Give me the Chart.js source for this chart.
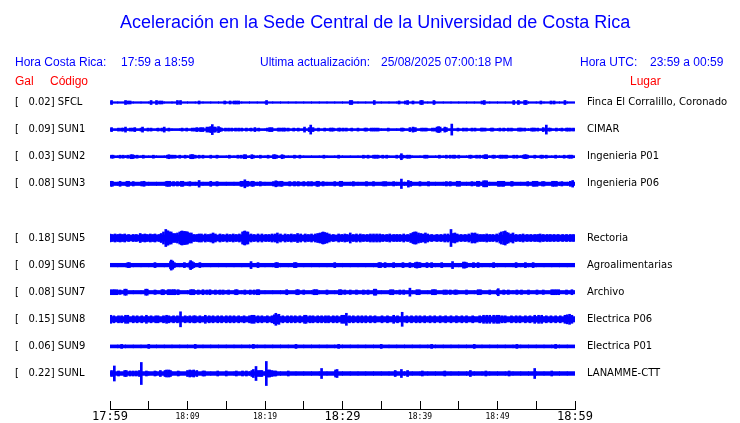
<!DOCTYPE html>
<html><head><meta charset="utf-8">
<script src="https://cdn.jsdelivr.net/npm/chart.js@4/dist/chart.umd.min.js"></script>
<style>
html,body{margin:0;padding:0;background:#fff;}
#wrap{position:relative;width:740px;height:423px;overflow:hidden;}
canvas{position:absolute;left:0;top:0;}
.t{position:absolute;white-space:pre;font-family:"Liberation Sans",Arial,sans-serif;font-size:12px;line-height:12px;color:#0000ff;}
.r{color:#ff0000;}
</style></head><body>
<div id="wrap">
<canvas id="c" width="740" height="423"></canvas>
<div class="t" style="left:120px;top:13px;font-size:18px;line-height:18px;">Aceleración en la Sede Central de la Universidad de Costa Rica</div>
<div class="t" style="left:15px;top:56px;">Hora Costa Rica:</div>
<div class="t" style="left:121px;top:56px;">17:59 a 18:59</div>
<div class="t" style="left:260px;top:56px;">Ultima actualización:</div>
<div class="t" style="left:381px;top:56px;">25/08/2025 07:00:18 PM</div>
<div class="t" style="left:580px;top:56px;">Hora UTC:</div>
<div class="t" style="left:650px;top:56px;">23:59 a 00:59</div>
<div class="t r" style="left:15px;top:75px;">Gal</div>
<div class="t r" style="left:50px;top:75px;">Código</div>
<div class="t r" style="left:630px;top:75px;">Lugar</div>
</div>
<script>
// ---- data ----
const codes = ['SFCL','SUN1','SUN2','SUN3','','SUN5','SUN6','SUN7','SUN8','SUN9','SUNL'];
const peakGal = [0.02,0.09,0.03,0.08,null,0.18,0.09,0.08,0.15,0.06,0.22];
const places = ['Finca El Corralillo, Coronado','CIMAR','Ingenieria P01','Ingenieria P06','','Rectoria','Agroalimentarias','Archivo','Electrica P06','Electrica P01','LANAMME-CTT'];
const timeLabels = ['17:59','','18:09','','18:19','','18:29','','18:39','','18:49','','18:59'];
// noise-floor half amplitude of each trace (counts; 27 counts = trace spacing)
const noiseFloor = [0.8,1,1,1.7,0,3,1.8,1.7,2.7,1.5,1.9];
// [minute after 17:59, half amplitude in counts]
const spikesSFCL = [[0.2,2],[2.0,2],[2.3,1.5],[2.6,1.5],[5.3,2],[6.0,2],[6.4,1.5],[6.7,1.5],[8.7,2],[9.1,2],[11.5,1.5],[14.8,1.5],[15.5,1.5],[16.0,1.5],[16.3,1.5],[16.6,1.5],[20.2,2],[31.0,2],[31.2,2],[34.1,2],[37.3,1.5],[38.1,1.5],[38.4,2],[39.1,1.5],[40.1,2],[40.3,2],[41.8,2],[48.0,1.5],[48.3,2],[52.1,2],[52.7,2],[53.5,2],[53.7,2],[55.6,1.5],[56.9,1.5],[57.3,1.5],[58.7,2]];
const spikesSUN1 = [[0.2,2],[1.1,1.5],[1.5,1.5],[1.7,1.5],[2.0,2.5],[2.6,1.5],[2.9,1.5],[3.2,2],[4.0,1.5],[4.2,2.5],[4.9,1.5],[5.3,1.5],[6.2,1.5],[6.7,1.5],[7.0,2.5],[7.6,1.5],[9.3,1.5],[9.9,1.5],[10.6,1.5],[10.9,1.5],[11.2,2],[11.5,1.5],[11.7,2],[12.0,2],[12.5,2.5],[12.8,2.5],[13.0,3],[13.2,5],[13.4,2.5],[13.6,2.5],[14.0,3],[14.2,2],[14.4,1.5],[14.9,1.5],[15.3,1.5],[15.7,1.5],[16.2,1.5],[16.6,1.5],[17.0,1.5],[17.6,1.5],[18.2,1.5],[18.7,2],[19.2,1.5],[20.3,1.5],[20.6,2],[20.9,2],[21.7,1.5],[21.9,1.5],[22.2,1.5],[22.4,1.5],[22.6,1.5],[23.0,1.5],[23.7,1.5],[24.3,1.5],[25.1,2.5],[25.7,2],[25.9,4.5],[26.2,2],[26.9,1.5],[27.7,1.5],[28.4,1.5],[28.6,1.5],[28.8,1.5],[29.5,1.5],[29.7,1.5],[30.1,1.5],[30.5,1.5],[31.2,1.5],[32.0,1.5],[32.9,1.5],[33.1,1.5],[33.7,1.5],[34.0,1.5],[34.3,1.5],[34.6,1.5],[35.9,1.5],[37.6,1.5],[37.8,1.5],[38.7,2],[39.1,2.5],[39.4,2],[40.2,1.5],[40.5,1.5],[40.8,1.5],[41.6,1.5],[41.9,1.5],[42.2,2.5],[42.4,3],[42.6,2.5],[43.2,2.5],[43.4,2],[44.1,5.5],[44.9,1.5],[45.6,1.5],[46.0,1.5],[46.7,1.5],[47.1,1.5],[47.9,1.5],[48.1,1.5],[48.4,1.5],[49.2,1.5],[49.4,1.5],[50.3,1.5],[50.8,1.5],[51.4,1.5],[51.8,1.5],[52.7,1.5],[52.9,1.5],[53.1,1.5],[53.5,1.5],[54.4,1.5],[54.6,1.5],[54.8,1.5],[55.2,1.5],[55.9,2],[56.3,4.5],[56.6,1.5],[56.8,1.5],[57.6,1.5],[58.3,1.5],[58.9,1.5],[59.1,1.5],[59.4,1.5],[59.8,1.5]];
const spikesSUN2 = [[0.2,1.5],[0.4,1.5],[1.3,1.5],[1.7,1.5],[2.3,1.5],[2.7,2],[2.9,2],[3.1,1.5],[3.5,1.5],[4.3,1.5],[5.6,1.5],[7.4,1.5],[7.6,2],[7.9,1.5],[8.1,1.5],[8.4,1.5],[9.0,1.5],[9.7,1.5],[10.4,2],[10.6,2],[10.7,2],[11.0,1.5],[11.5,1.5],[12.0,1.5],[13.0,1.5],[13.8,1.5],[15.4,1.5],[16.5,1.5],[16.9,1.5],[17.3,2],[17.5,2],[18.3,2],[18.5,1.5],[19.4,1.5],[20.4,1.5],[21.1,2],[21.3,2],[21.5,1.5],[22.2,2],[22.4,1.5],[23.8,1.5],[24.5,1.5],[27.6,1.5],[29.5,1.5],[32.7,1.5],[33.3,1.5],[34.0,1.5],[34.2,1.5],[34.4,1.5],[34.6,1.5],[35.2,1.5],[35.7,1.5],[37.0,1.5],[37.5,1.5],[37.6,3],[37.8,1.5],[38.3,1.5],[38.5,1.5],[38.7,1.5],[40.6,1.5],[40.9,1.5],[42.5,1.5],[43.4,1.5],[43.9,1.5],[44.3,1.5],[44.5,1.5],[45.0,1.5],[46.4,1.5],[46.6,1.5],[47.3,1.5],[47.7,1.5],[48.2,1.5],[48.4,2],[48.6,2],[49.4,1.5],[49.6,1.5],[50.3,1.5],[50.5,1.5],[50.7,1.5],[51.0,1.5],[51.2,1.5],[52.1,1.5],[52.5,1.5],[53.3,1.5],[53.5,2],[53.7,2],[53.9,1.5],[54.8,1.5],[55.6,1.5],[55.8,1.5],[56.3,1.5],[57.5,1.5],[58.6,1.5],[59.2,1.5],[59.4,1.5],[59.6,1.5]];
const spikesSUN3 = [[0.1,2.5],[0.3,2.5],[1.3,2.5],[2.2,2.5],[2.4,2.5],[3.0,2.2],[4.1,2.2],[4.4,2.5],[7.3,2.5],[7.5,2.5],[7.7,2.5],[8.2,2.2],[8.7,2.2],[9.2,2.5],[9.4,2.5],[10.3,2.2],[11.5,3.3],[13.0,2.5],[13.8,2.2],[16.9,2.5],[17.1,2.5],[17.4,4],[17.6,2.5],[17.8,2.5],[18.3,2.5],[18.5,2.5],[19.4,2.2],[21.1,2.2],[21.4,3],[21.6,2.5],[22.0,2.5],[22.2,2.5],[23.2,2.2],[23.8,2.2],[24.3,2.2],[25.0,2.2],[25.6,2.2],[26.0,2.2],[26.7,2.5],[26.9,2.5],[27.5,2.2],[29.0,2.2],[29.7,2.5],[29.9,2.5],[31.4,2.2],[33.1,2.2],[34.0,2.2],[35.3,2.2],[35.6,2.2],[36.6,2.2],[37.6,4.7],[38.5,3.3],[38.8,2.5],[40.0,2.2],[41.1,2.2],[43.4,2.2],[43.9,2.2],[44.8,2.5],[45.1,2.5],[46.7,2.2],[47.4,2.5],[47.6,2.5],[48.2,3],[48.4,3],[48.6,3],[50.1,2.5],[50.3,2.5],[50.6,2.5],[50.8,2.5],[51.8,2.2],[51.9,2.2],[53.9,2.2],[54.6,2.5],[54.8,2.5],[55.1,2.5],[55.8,2.2],[56.0,2.2],[57.1,2.5],[57.3,2.5],[57.6,2.5],[58.3,2.2],[59.4,2.5],[59.7,3.3]];
const spikesSUN5 = [[0.0,4],[0.3,3.5],[0.65,4],[1.0,3.5],[1.3,4],[1.6,3.5],[1.9,4],[2.4,3.5],[3.0,3.5],[3.4,3.5],[3.9,4.5],[4.2,3.5],[4.5,4],[4.8,3.5],[5.2,4],[5.5,3.5],[5.8,4],[6.3,3.5],[6.6,4.5],[6.9,6],[7.2,8.5],[7.4,7],[7.5,7],[7.7,6],[7.9,6],[8.1,4.5],[8.4,4.5],[8.7,5],[9.0,6],[9.2,6.5],[9.3,7],[9.5,6.5],[9.7,6.5],[9.9,6],[10.0,6],[10.2,5],[10.5,5],[10.8,3.5],[11.2,3.5],[11.5,4],[11.8,4],[12.3,4],[12.7,3.5],[13.0,4],[13.3,5],[13.6,4],[14.2,4],[14.6,3.5],[15.1,4],[15.5,3.5],[15.9,4],[16.3,3.5],[16.7,4],[17.1,6],[17.3,6.5],[17.4,7],[17.6,6],[17.8,6],[18.2,4],[18.6,3.5],[19.1,4],[19.6,4],[20.1,3.5],[20.5,3.5],[20.9,4],[21.3,4],[21.6,5],[22.0,4],[22.6,4],[23.0,3.5],[23.4,4],[23.8,3.5],[24.2,4.5],[24.6,4],[25.2,4],[25.6,3.5],[26.0,4],[26.5,4],[26.8,4.5],[27.1,5],[27.4,5.5],[27.5,6],[27.7,5.5],[28.0,5],[28.3,4],[28.8,3.5],[29.5,4],[29.9,3.5],[30.3,4],[30.6,3.5],[31.0,5],[31.4,3.5],[31.8,4],[32.3,4],[32.7,3.5],[33.2,3.5],[33.6,4],[34.0,4],[34.4,4],[34.8,4],[35.2,3.5],[35.7,3.5],[36.1,4],[36.6,3.5],[37.0,3.5],[37.4,3.5],[37.9,4],[38.4,3.5],[38.8,4.5],[39.1,5.5],[39.3,6],[39.5,6],[39.8,5],[40.1,4.5],[40.4,4],[40.7,5],[41.0,4],[41.5,3.5],[42.2,3.5],[42.7,3.5],[43.2,4],[43.6,4],[44.0,8.5],[44.3,4.5],[44.5,5],[44.8,4],[45.3,3.5],[45.8,3.5],[46.3,4],[46.7,5],[46.9,4.5],[47.1,5],[47.4,4],[47.8,3.5],[48.2,3.5],[48.6,4],[49.0,3.5],[49.4,3.5],[49.9,4],[50.3,5],[50.5,6],[50.8,6.5],[51.0,7],[51.2,5.5],[51.4,5],[51.7,4],[52.0,5],[52.4,3.5],[52.9,3.5],[53.3,4],[53.8,3.5],[54.3,3.5],[54.8,3.5],[55.2,3.5],[55.5,4],[55.9,3.5],[56.4,3.5],[56.8,3.5],[57.3,3.5],[57.8,3.5],[58.4,3.5],[58.9,3.5],[59.4,3.5],[59.8,3.5]];
const spikesSUN6 = [[2.3,2.5],[2.5,2.5],[5.8,2.5],[7.8,3.5],[7.9,5],[8.1,4],[8.3,2.5],[9.6,2.5],[10.3,3],[10.4,4.5],[10.6,3.5],[10.8,2.5],[11.6,2.5],[18.2,3.5],[19.1,2.5],[21.4,2.5],[21.6,2.5],[23.8,2.5],[24.0,2.5],[29.0,2.5],[34.7,2.5],[34.9,2.5],[35.5,2.5],[36.6,2.5],[37.8,2.5],[38.7,2.5],[39.4,2.5],[39.6,3],[39.8,2.5],[40.0,2.5],[40.9,2.5],[41.5,2.5],[42.8,2.5],[44.2,3.5],[45.6,3],[45.8,3],[46.0,2.5],[46.9,2.5],[47.5,2.5],[49.5,2.5],[52.4,2.5],[53.6,2.5],[54.6,2.5]];
const spikesSUN7 = [[0.1,2.5],[0.4,2.5],[0.6,2.5],[0.9,2.5],[1.3,2.2],[1.9,3],[2.1,3],[4.6,3],[4.8,3],[5.8,2.2],[6.7,2.5],[6.9,2.5],[7.5,2.5],[7.7,2.5],[8.0,2.5],[8.2,2.5],[8.4,2.5],[8.8,2.5],[10.4,2.5],[10.6,2.5],[10.8,2.5],[11.4,2.2],[12.0,2.5],[12.5,2.2],[12.9,2.5],[13.6,2.2],[14.2,2.2],[14.6,2.2],[15.3,2.2],[16.2,2.5],[16.4,2.5],[17.4,2.2],[18.1,2.2],[18.6,2.2],[19.0,2.5],[19.2,2.5],[22.8,2.5],[24.1,2.5],[24.3,2.5],[25.0,2.2],[26.3,2.5],[26.5,2.5],[26.7,2.5],[28.0,2.2],[29.6,2.5],[29.8,2.5],[30.3,2.2],[31.0,2.2],[31.8,2.2],[32.7,2.2],[33.3,2.2],[34.1,3],[34.3,3],[36.2,2.5],[36.5,2.5],[37.4,2.2],[37.9,2.2],[38.7,4],[39.6,2.5],[39.9,2.5],[41.6,2.5],[41.8,2.5],[42.0,2.5],[43.1,2.2],[43.4,2.2],[43.9,2.2],[44.5,2.2],[44.7,2.2],[46.0,2.2],[47.5,2.5],[47.8,2.5],[49.0,2.2],[50.0,2.5],[50.1,3.5],[50.8,2.2],[51.4,2.2],[52.5,2.2],[53.1,2.2],[54.0,2.2],[55.1,2.2],[55.9,2.2],[57.0,2.5],[57.3,2.5],[57.6,2.5],[57.9,2.5],[58.9,2.2],[59.6,2.5]];
const spikesSUN8 = [[0.1,4],[0.5,3.5],[1.1,3.5],[1.5,3.5],[2.0,4],[2.3,4],[3.0,3.5],[3.5,3.5],[4.1,3.5],[4.7,4],[5.3,3.5],[5.9,3.5],[6.2,3.5],[6.9,3.5],[7.3,4],[7.6,3.5],[8.2,3.5],[8.7,3.5],[9.1,7.5],[9.7,3.5],[10.3,3.5],[10.8,3.5],[11.0,3.5],[11.6,3.5],[12.3,4],[12.8,3.5],[13.3,3.5],[13.9,3.5],[14.4,3.5],[15.0,3.5],[15.5,3.5],[16.0,3.5],[16.6,3.5],[17.3,3.5],[18.0,3.5],[18.3,4],[18.6,4],[19.1,3.5],[19.6,3.5],[20.3,3.5],[20.9,3.5],[21.2,4.5],[21.4,6],[21.6,4.5],[21.8,5],[22.3,3.5],[22.9,3.5],[23.4,3.5],[23.9,3.5],[24.5,3.5],[25.1,4],[25.3,4],[25.8,3.5],[26.2,3.5],[26.8,3.5],[27.3,3.5],[27.8,3.5],[28.2,3.5],[28.8,3.5],[29.3,3.5],[29.9,4],[30.2,4],[30.5,6],[30.9,3.5],[31.4,3.5],[32.0,3.5],[32.5,3.5],[33.0,3.5],[33.6,3.5],[34.2,3.5],[35.1,3.5],[35.8,3.5],[36.6,4],[37.1,3.5],[37.7,7],[38.3,3.5],[38.9,3.5],[39.5,3.5],[40.0,3.5],[40.6,3.5],[41.3,3.5],[41.9,3.5],[42.6,3.5],[43.3,3.5],[44.0,3.5],[44.7,3.5],[45.4,3.5],[46.0,3.5],[46.8,3.5],[47.7,3.5],[48.2,4],[48.6,4],[49.0,4],[49.5,4],[49.9,4],[50.2,4],[50.6,3.5],[51.0,3.5],[51.8,3.5],[52.4,3.5],[52.9,3.5],[53.6,3.5],[54.2,3.5],[54.8,4],[55.3,4],[55.7,4],[56.3,3.5],[56.9,3.5],[57.5,3.5],[58.1,3.5],[58.7,4],[59.0,4.5],[59.3,5],[59.6,4]];
const spikesSUN9 = [[1.5,2],[5.0,2],[11.0,2],[18.5,2],[24.0,2],[29.5,2],[35.0,2],[41.5,2],[47.0,2],[52.5,2],[57.5,2]];
const spikesSUNL = [[0.2,3],[0.56,7.5],[1.1,2.5],[1.9,3],[2.1,3],[2.6,2.5],[3.0,2.5],[3.4,2.5],[3.8,3],[4.04,11],[4.7,2.5],[5.8,2.5],[6.5,3],[7.1,3],[7.3,3.5],[7.6,3.5],[7.8,3],[8.8,2.5],[10.0,3],[10.3,3.5],[10.6,3],[10.8,3.5],[11.2,3],[12.0,2.5],[12.2,2.5],[13.9,2.5],[15.0,2.5],[16.3,2.5],[17.1,2.5],[17.6,2.5],[18.3,3],[18.5,4],[18.84,7],[19.1,3],[19.4,3],[19.6,3],[20.17,12],[20.4,3.5],[20.6,3.5],[20.9,3],[21.2,2.5],[21.4,2.5],[23.0,2.5],[27.3,5],[29.1,3.5],[29.3,4],[36.8,3],[37.6,4],[38.4,3],[40.3,2.5],[43.2,2.5],[46.5,3],[48.5,2.5],[51.5,2.5],[54.8,5],[57.0,2.5]];
const spikeSets = [spikesSFCL,spikesSUN1,spikesSUN2,spikesSUN3,[],spikesSUN5,spikesSUN6,spikesSUN7,spikesSUN8,spikesSUN9,spikesSUNL];
const minuteBins = Array.from({length:60},(_,k)=>k+0.5);

// ---- build ----
const COUNTS_PER_TRACE = 27;
const BLUE = '#0000ff';
const datasets = [];
codes.forEach((code,i)=>{
  if(!code) return;
  const h = noiseFloor[i]/COUNTS_PER_TRACE;
  datasets.push({label:code+' floor', data:minuteBins.map(m=>({x:m,y:[i-h,i+h]})),
    backgroundColor:BLUE, borderWidth:0, barThickness:8, grouped:false});
  datasets.push({label:code, data:spikeSets[i].map(([m,a])=>({x:m,y:[i-a/COUNTS_PER_TRACE,i+a/COUNTS_PER_TRACE]})),
    backgroundColor:BLUE, borderWidth:0, barThickness:2, grouped:false});
});
const yRange = {min:-0.535, max:11.31};
const traceTicks = s => { s.ticks = codes.map((_,i)=>({value:i})); };
const fixWidth = w => s => { s.width = w; s.paddingTop = 0; s.paddingBottom = 0; };
new Chart(document.getElementById('c'), {
  type:'bar',
  data:{datasets},
  options:{
    responsive:false, animation:false, devicePixelRatio:1,
    layout:{padding:{left:15,top:88,right:0,bottom:0}},
    plugins:{legend:{display:false},tooltip:{enabled:false},title:{display:false}},
    scales:{
      x:{type:'linear',position:'bottom',min:0,max:60,offset:false,
        afterBuildTicks:s=>{ s.ticks = timeLabels.map((_,k)=>({value:k*5})); },
        afterFit:s=>{ s.height = 14; },
        ticks:{autoSkip:false,maxRotation:0,minRotation:0,padding:9,color:'#000',
          callback:v=>timeLabels[Math.round(v/5)],
          font:ctx=>(ctx.tick && ctx.tick.value%30===0)
            ? {family:'DejaVu Sans Mono',size:12,lineHeight:1.2}
            : {family:'DejaVu Sans Mono',size:8,lineHeight:1.8}},
        grid:{offset:false,drawOnChartArea:false,drawTicks:true,tickLength:-8,color:'#000',lineWidth:1},
        border:{display:true,color:'#000',width:1,z:1}},
      y:{type:'linear',position:'left',reverse:true,...yRange,
        afterBuildTicks:traceTicks, afterFit:fixWidth(95),
        ticks:{autoSkip:false,crossAlign:'far',color:'#000',font:{family:'DejaVu Sans',size:10},
          callback:v=>codes[v] ? '[' + peakGal[v].toFixed(2).padStart(7,' ') + '] ' + codes[v] : ''},
        grid:{display:false,drawTicks:false},border:{display:false}},
      y2:{type:'linear',position:'right',reverse:true,...yRange,
        afterBuildTicks:traceTicks, afterFit:fixWidth(165),
        ticks:{autoSkip:false,padding:12,color:'#000',font:{family:'DejaVu Sans',size:10},
          callback:v=>places[v] || ''},
        grid:{display:false,drawTicks:false},border:{display:false}}
    }
  }
});
</script>
</body></html>
